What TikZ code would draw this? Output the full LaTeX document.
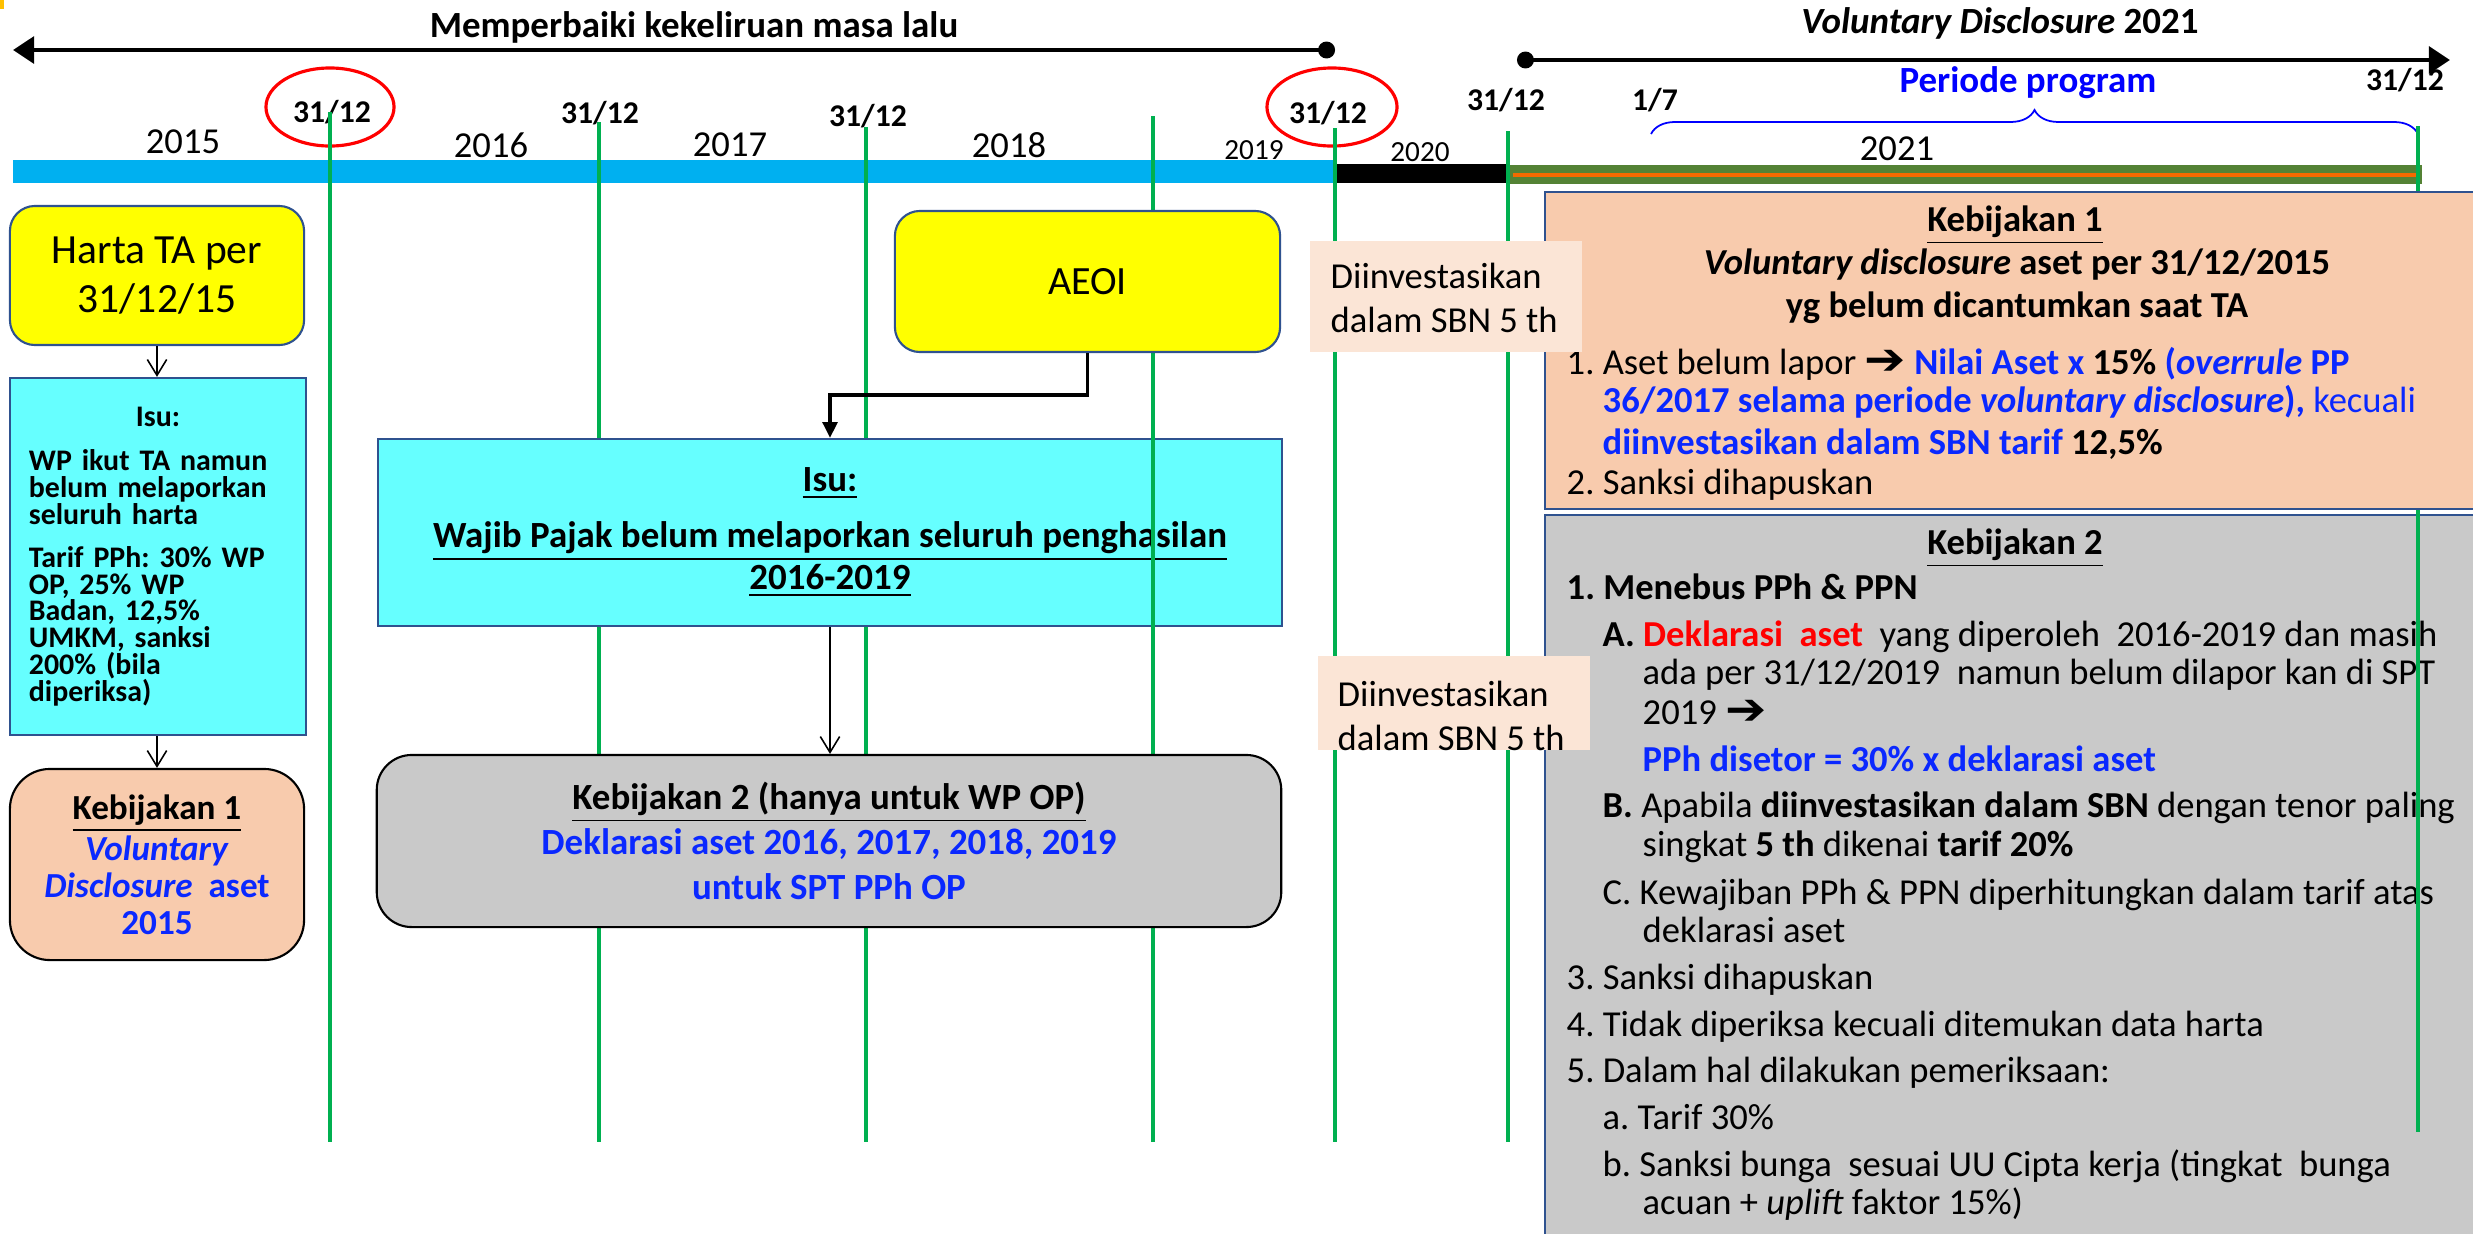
\documentclass[tikz,border=0pt]{standalone}
\usepackage{fontspec}
\setmainfont{Carlito}
\newfontfamily\symfont{DejaVu Sans}
\usetikzlibrary{arrows.meta,decorations.pathreplacing}
\frenchspacing

\definecolor{barblue}{HTML}{00B0F0}
\definecolor{bargreen}{HTML}{548235}
\definecolor{barorange}{HTML}{F46A00}
\definecolor{tickgreen}{HTML}{00B050}
\definecolor{boxyellow}{HTML}{FFFF00}
\definecolor{boxcyan}{HTML}{66FFFF}
\definecolor{boxedge}{HTML}{2F528F}
\definecolor{boxpeach}{HTML}{F8CBAD}
\definecolor{boxpale}{HTML}{FBE5D6}
\definecolor{boxgrey}{HTML}{C9C9C9}
\definecolor{txtblue}{HTML}{0A28FF}
\definecolor{cornermark}{HTML}{FFC000}

\newcommand\fs[2]{\fontsize{#1pt}{#2pt}\selectfont}
\newcommand\bluebf[1]{{\bfseries\color{txtblue}#1}}
\newcommand\rarr{\scalebox{1.35}[1.2]{\symfont\bfseries ➔}}

\tikzset{gridline/.style={
  tickgreen,
  line width=1pt}}
\tikzset{ring/.style={
  red,
  line width=0.9pt}}
\tikzset{span/.style={
  line width=1.4pt,
  arrows={Circle[length=4.8pt]-Triangle[length=6pt,width=7.5pt]}}}
\tikzset{flowbox/.style={
  draw=boxedge,
  line width=0.6pt,
  inner sep=0pt,
  align=center}}
\tikzset{thinarrow/.style={
  line width=0.45pt,
  arrows={-Straight Barb[length=4.5pt,width=5.5pt]}}}
\tikzset{elbowarrow/.style={
  line width=0.9pt,
  arrows={-Triangle[length=4.5pt,width=4.2pt]}}}

\begin{document}
\begin{tikzpicture}[x=0.01cm,y=-0.01cm,
  yearlbl/.style={anchor=base, inner sep=0pt, font=\fs{10.4}{12}},
  datelbl/.style={anchor=base, inner sep=0pt, font=\bfseries\fs{9}{11}},
  txtrow/.style={anchor=mid west, inner sep=0pt, font=\fs{10.4}{12}},
  txtmid/.style={anchor=mid, inner sep=0pt, font=\bfseries\fs{10.4}{12}},
  sbntxt/.style={anchor=west, inner sep=0pt, align=left, font=\fs{10.4}{12.5}}]

  \useasboundingbox (0,0) rectangle (2473,1233);
  \clip (0,0) rectangle (2473,1233);
  \fill[cornermark] (0,0) rectangle (4,9);

  %% time spans on top
  \coordinate (pastL) at (13,50);
  \coordinate (pastR) at (1335,50);
  \coordinate (vdL) at (1517,60);
  \coordinate (vdR) at (2450,60);
  \draw[span] (pastR) -- (pastL);
  \draw[span] (vdL) -- (vdR);
  \node[anchor=base, font=\bfseries\fs{10.5}{12}] (pastlbl) at (694,37) {Memperbaiki kekeliruan masa lalu};
  \node[anchor=base, font=\bfseries\fs{10.5}{12}] (vdlbl) at (2000,33) {\textit{Voluntary Disclosure} 2021};

  %% year bar
  \fill[barblue] (13,160) rectangle (1335,183);
  \fill[black] (1335,164) rectangle (1508,183);
  \fill[bargreen] (1508,165) rectangle (2422,184);
  \draw[barorange, line width=1pt] (1513,175) -- (2417,175);

  %% years
  \foreach \yr/\yx/\yy in {2015/183/153,2016/491/157,2017/730/156,2018/1009/157,2021/1897/160}
    \node[yearlbl] (y\yr) at (\yx,\yy) {\yr};
  \foreach \yr/\yx/\yy in {2019/1254/159,2020/1420/161}
    \node[yearlbl, font=\fs{8.3}{10}] (y\yr) at (\yx,\yy) {\yr};

  %% year ends
  \node[datelbl] (d15) at (332,122) {31/12};
  \node[datelbl] (d16) at (600,123) {31/12};
  \node[datelbl] (d17) at (868,126) {31/12};
  \node[datelbl] (d19) at (1328,123) {31/12};
  \node[datelbl] (d20) at (1506,110) {31/12};
  \node[datelbl] (p17) at (1655,110) {1/7};
  \node[datelbl] (d21) at (2405,90) {31/12};
  \draw[ring] (330,107) ellipse [x radius=0.64cm, y radius=0.39cm];
  \draw[ring] (1332,107) ellipse [x radius=0.65cm, y radius=0.39cm];

  %% program period
  \draw[blue, line width=0.5pt, decorate, decoration={brace, amplitude=0.24cm}] (1651,134) -- (2418,134);
  \node[anchor=base, font=\bfseries\fs{10.5}{12}, text=blue] (periode) at (2028,92) {Periode program};

  %% green year lines
  \foreach \gx/\gy in {330/112,599/122,866/127,1153/116,1335/128,1508/131}
    \draw[gridline] (\gx,\gy) -- (\gx,1142);
  \coordinate (g4) at (1153,0);

  %% left flow
  \node[flowbox, fill=boxyellow, rounded corners=0.25cm, minimum width=2.94cm, minimum height=1.39cm,
    font=\fs{11.8}{13.7}] (harta) at (157,275.5) {Harta TA per\\31/12/15};
  \node[flowbox, fill=boxcyan, minimum width=2.96cm, minimum height=3.57cm,
    text width=2.58cm, align=left, font=\bfseries\fs{8.5}{7.6}] (isu1) at (158,556.5)
    {\makebox[2.58cm]{Isu:}\\[0.175cm]
     WP ikut TA namun\\belum melaporkan\\seluruh harta\\[0.165cm]
     Tarif PPh: 30\% WP\\OP, 25\% WP\\Badan, 12,5\%\\UMKM, sanksi\\200\% (bila\\diperiksa)};
  \node[flowbox, draw=black, fill=boxpeach, rounded corners=0.4cm, minimum width=2.94cm, minimum height=1.91cm,
    font=\bfseries\fs{10}{10.5}] (keb1s) at (157,864.5)
    {\underline{Kebijakan 1}\\ {\color{txtblue}\textit{Voluntary}}\\
     {\color{txtblue}\textit{Disclosure}\ \ aset}\\ {\color{txtblue}2015}};

  %% middle flow
  \node[flowbox, fill=boxyellow, rounded corners=0.25cm, minimum width=3.85cm, minimum height=1.41cm,
    font=\fs{11.4}{13}] (aeoi) at (1087.5,281.5) {AEOI};
  \node[flowbox, fill=boxcyan, minimum width=9.04cm, minimum height=1.87cm,
    font=\bfseries\fs{10.5}{10.8}] (isu2) at (830,532.5)
    {\underline{Isu:}\\[0.18cm]
     \underline{Wajib Pajak belum melaporkan seluruh penghasilan}\\
     \underline{2016-2019}};
  \draw[gridline] (g4 |- isu2.north) -- (g4 |- isu2.south);
  \node[flowbox, draw=black, fill=boxgrey, rounded corners=0.35cm, minimum width=9.04cm, minimum height=1.72cm,
    font=\bfseries\fs{10.5}{12.8}] (keb2s) at (829,841)
    {\underline{Kebijakan 2 (hanya untuk WP OP)}\\
     {\color{txtblue}Deklarasi aset 2016, 2017, 2018, 2019}\\
     {\color{txtblue}untuk SPT PPh OP}};

  %% Kebijakan 2 (right)
  \node[flowbox, fill=boxgrey, anchor=north west, minimum width=9.4cm, minimum height=7.3cm] (keb2b) at (1544,514) {};
  \node[txtmid] (k2title) at (2015,546) {\underline{Kebijakan 2}};
  \node[txtrow, font=\bfseries\fs{10.4}{12}] (k2i1) at (1566,591) {1. Menebus PPh \& PPN};
  \node[txtrow] (k2a1) at (1602,638) {\textbf{A. {\color{red}Deklarasi\ \ aset}}\ \ yang diperoleh\ \ 2016-2019 dan masih};
  \node[txtrow] (k2a2) at (1642,676) {ada per 31/12/2019\ \ namun belum dilapor kan di SPT};
  \node[txtrow] (k2a3) at (1642,716) {2019 \rarr};
  \node[txtrow] (k2a4) at (1642,763) {\bluebf{PPh disetor = 30\% x deklarasi aset}};
  \node[txtrow] (k2b1) at (1602,809) {\textbf{B.} Apabila \textbf{diinvestasikan dalam SBN} dengan tenor paling};
  \node[txtrow] (k2b2) at (1642,848) {singkat \textbf{5 th} dikenai \textbf{tarif 20\%}};
  \node[txtrow] (k2c1) at (1602,896) {C. Kewajiban PPh \& PPN diperhitungkan dalam tarif atas};
  \node[txtrow] (k2c2) at (1642,934) {deklarasi aset};
  \node[txtrow] (k2i3) at (1566,981) {3. Sanksi dihapuskan};
  \node[txtrow] (k2i4) at (1566,1028) {4. Tidak diperiksa kecuali ditemukan data harta};
  \node[txtrow] (k2i5) at (1566,1074) {5. Dalam hal dilakukan pemeriksaan:};
  \node[txtrow] (k2i5a) at (1602,1121) {a. Tarif 30\%};
  \node[txtrow] (k2i5b) at (1602,1168) {b. Sanksi bunga\ \ sesuai UU Cipta kerja (tingkat\ \ bunga};
  \node[txtrow] (k2i5c) at (1642,1206) {acuan + \textit{uplift} faktor 15\%)};

  %% last year line, under Kebijakan 1
  \draw[gridline] (2418,126) -- (2418,1132);

  %% Kebijakan 1 (right)
  \node[flowbox, fill=boxpeach, anchor=north west, minimum width=9.4cm, minimum height=3.17cm] (keb1b) at (1544,191) {};
  \node[txtmid] (k1title) at (2015,223) {\underline{Kebijakan 1}};
  \node[txtmid] (k1sub1) at (2017,266) {\textit{Voluntary disclosure} aset per 31/12/2015};
  \node[txtmid] (k1sub2) at (2017,309) {yg belum dicantumkan saat TA};
  \node[txtrow] (k1i1) at (1566,366) {1. Aset belum lapor \rarr{} \bluebf{Nilai Aset x} \textbf{15\%} \bluebf{(\textit{overrule} PP}};
  \node[txtrow] (k1i1b) at (1602,404) {\bluebf{36/2017 selama periode \textit{voluntary disclosure}),} {\color{txtblue}kecuali}};
  \node[txtrow] (k1i1c) at (1602,446) {\bluebf{diinvestasikan dalam SBN tarif} \textbf{12,5\%}};
  \node[txtrow] (k1i2) at (1566,486) {2. Sanksi dihapuskan};

  %% SBN notes
  \fill[boxpale] (1310,241) rectangle (1582,352);
  \node[sbntxt] (sbnA) at (1330,298) {Diinvestasikan\\dalam SBN 5 th};
  \fill[boxpale] (1318,656) rectangle (1590,750);
  \node[sbntxt] (sbnB) at (1337,716) {Diinvestasikan\\dalam SBN 5 th};

  %% connectors
  \coordinate (aeoibend) at (0,395);
  \draw[thinarrow] (harta.south) -- (harta.south |- isu1.north);
  \draw[thinarrow] (keb1s.north |- isu1.south) -- (keb1s.north);
  \draw[elbowarrow] (aeoi.south) -- (aeoi.south |- aeoibend) -| (isu2.north);
  \draw[thinarrow] (isu2.south) -- (isu2.south |- keb2s.north);

\end{tikzpicture}
\end{document}
